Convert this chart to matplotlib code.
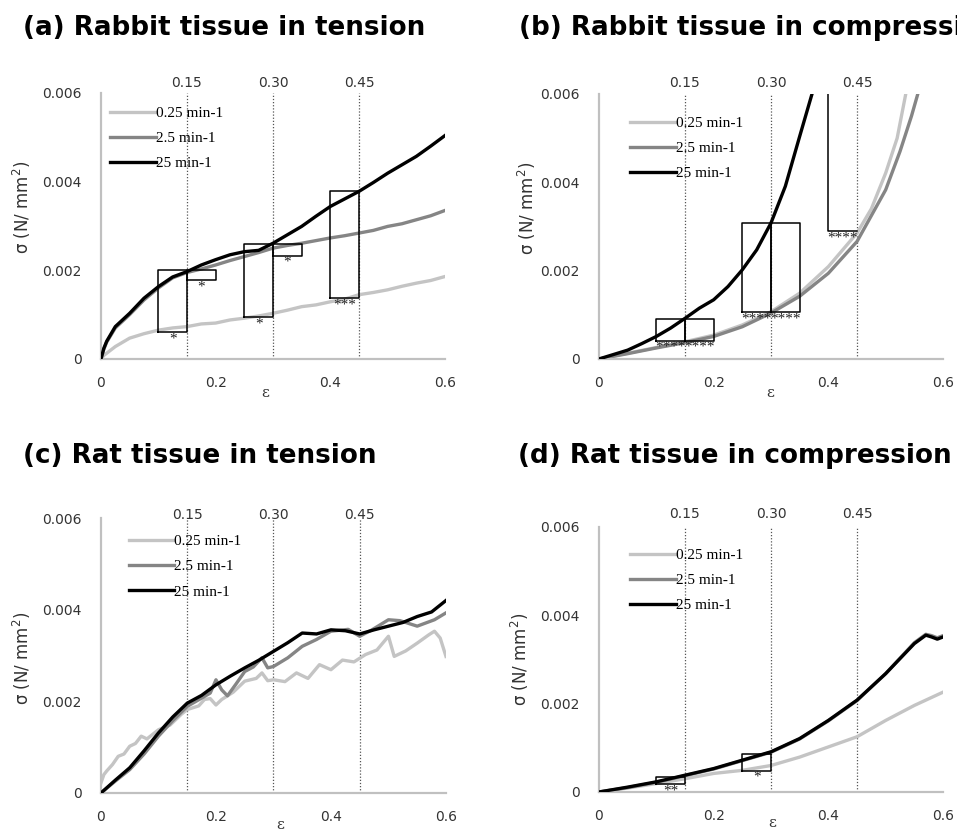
import matplotlib
matplotlib.use("Agg")
import matplotlib.pyplot as plt
import matplotlib.transforms as mtransforms

# ---- data ----
rates = ["0.25 min-1", "2.5 min-1", "25 min-1"]
colors = ["#c4c4c4", "#858585", "#000000"]

# (a) rabbit, tension
a_eps = [0, 0.005, 0.01, 0.025, 0.05, 0.075, 0.1, 0.125, 0.15, 0.175, 0.2, 0.225, 0.25,
         0.275, 0.3, 0.325, 0.35, 0.375, 0.4, 0.425, 0.45, 0.475, 0.5, 0.525, 0.55, 0.575, 0.6]
a_slow = [0, 0.00008, 0.00013, 0.00028, 0.00047, 0.00057, 0.00065, 0.0007, 0.00073, 0.00079,
          0.00081, 0.00088, 0.00092, 0.00097, 0.00103, 0.0011, 0.00118, 0.00122, 0.00129,
          0.00135, 0.00145, 0.0015, 0.00156, 0.00164, 0.00171, 0.00177, 0.00186]
a_mid = [0, 0.00022, 0.00038, 0.0007, 0.001, 0.00133, 0.0016, 0.00183, 0.00195, 0.00203,
         0.00212, 0.00222, 0.00231, 0.0024, 0.0025, 0.00256, 0.00261, 0.00267, 0.00273,
         0.00278, 0.00284, 0.0029, 0.00299, 0.00305, 0.00314, 0.00323, 0.00335]
a_fast = [0, 0.00024, 0.0004, 0.00073, 0.00103, 0.00137, 0.00163, 0.00185, 0.00197, 0.00212,
          0.00224, 0.00235, 0.00242, 0.00245, 0.00261, 0.0028, 0.00299, 0.00322, 0.00344,
          0.00361, 0.00378, 0.00398, 0.00419, 0.00438, 0.00457, 0.0048, 0.00504]

# (b) rabbit, compression
b_eps_slow = [0, 0.05, 0.1, 0.15, 0.2, 0.25, 0.3, 0.35, 0.4, 0.45, 0.475, 0.5, 0.52, 0.535]
b_slow = [0, 0.00013, 0.00026, 0.00039, 0.00054, 0.00077, 0.00107, 0.00149, 0.00209,
          0.00285, 0.0034, 0.00421, 0.005, 0.006]
b_eps_mid = [0, 0.05, 0.1, 0.15, 0.2, 0.25, 0.3, 0.35, 0.4, 0.45, 0.5, 0.525, 0.545, 0.556]
b_mid = [0, 0.00012, 0.00025, 0.00037, 0.00051, 0.00073, 0.00104, 0.00142, 0.00194,
         0.00266, 0.00383, 0.0047, 0.0055, 0.006]
b_eps_fast = [0, 0.025, 0.05, 0.075, 0.1, 0.125, 0.15, 0.175, 0.2, 0.225, 0.25, 0.275,
              0.3, 0.325, 0.35, 0.3715]
b_fast = [0, 0.0001, 0.0002, 0.00035, 0.00051, 0.0007, 0.00092, 0.00115, 0.00134, 0.00164,
          0.00202, 0.00247, 0.00308, 0.00391, 0.00504, 0.006]

# (c) rat, tension
c_eps_slow = [0, 0.005, 0.01, 0.02, 0.03, 0.04, 0.05, 0.06, 0.07, 0.08, 0.09, 0.1, 0.12,
              0.14, 0.15, 0.17, 0.18, 0.19, 0.2, 0.21, 0.23, 0.25, 0.27, 0.28, 0.29, 0.3,
              0.32, 0.34, 0.36, 0.38, 0.4, 0.42, 0.44, 0.46, 0.48, 0.5, 0.51, 0.53, 0.55,
              0.57, 0.58, 0.59, 0.6]
c_slow = [0.00022, 0.0004, 0.00048, 0.00062, 0.0008, 0.00085, 0.00102, 0.00108, 0.00124,
          0.00118, 0.00128, 0.00138, 0.00148, 0.00172, 0.00182, 0.0019, 0.00204, 0.00206,
          0.00192, 0.00204, 0.0022, 0.00244, 0.0025, 0.00262, 0.00245, 0.00247, 0.00243,
          0.00262, 0.0025, 0.0028, 0.00269, 0.0029, 0.00286, 0.00302, 0.00312, 0.00342,
          0.00298, 0.0031, 0.00327, 0.00345, 0.00353, 0.00338, 0.00298]
c_eps_mid = [0, 0.025, 0.05, 0.075, 0.1, 0.125, 0.15, 0.175, 0.19, 0.2, 0.21, 0.22, 0.235,
             0.25, 0.265, 0.28, 0.29, 0.3, 0.325, 0.35, 0.375, 0.4, 0.43, 0.45, 0.47, 0.5,
             0.52, 0.55, 0.58, 0.6]
c_mid = [0, 0.00026, 0.00051, 0.00085, 0.00124, 0.00158, 0.00189, 0.00207, 0.00218,
         0.00247, 0.00225, 0.00212, 0.00238, 0.00265, 0.00275, 0.00295, 0.00273, 0.00276,
         0.00295, 0.0032, 0.00335, 0.00353, 0.00357, 0.00342, 0.00355, 0.00378, 0.00376,
         0.00364, 0.00378, 0.00393]
c_eps_fast = [0, 0.025, 0.05, 0.075, 0.1, 0.125, 0.15, 0.175, 0.2, 0.225, 0.25, 0.275, 0.3,
              0.325, 0.35, 0.375, 0.4, 0.425, 0.45, 0.475, 0.5, 0.525, 0.55, 0.575, 0.6]
c_fast = [0, 0.00028, 0.00055, 0.00092, 0.00131, 0.00166, 0.00196, 0.00213, 0.00236,
          0.00255, 0.00273, 0.0029, 0.00309, 0.00328, 0.00349, 0.00347, 0.00356, 0.00354,
          0.00347, 0.00356, 0.00364, 0.00372, 0.00385, 0.00395, 0.0042]

# (d) rat, compression
d_eps = [0, 0.05, 0.1, 0.15, 0.2, 0.25, 0.3, 0.35, 0.4, 0.45, 0.5, 0.55, 0.57, 0.58, 0.59, 0.6]
d_mid = [0, 0.0001, 0.00022, 0.00037, 0.00052, 0.00071, 0.0009, 0.0012, 0.00161, 0.00207,
         0.00268, 0.00338, 0.00357, 0.00354, 0.00349, 0.00354]
d_fast = [0, 0.00011, 0.00023, 0.00038, 0.00053, 0.00072, 0.00091, 0.00121, 0.00162,
          0.00208, 0.00268, 0.00336, 0.00355, 0.00351, 0.00346, 0.00351]
d_eps_slow = [0, 0.05, 0.1, 0.15, 0.2, 0.25, 0.3, 0.35, 0.4, 0.45, 0.5, 0.55, 0.6]
d_slow = [0, 0.00009, 0.00019, 0.0003, 0.00042, 0.00049, 0.0006, 0.00079, 0.00102,
          0.00125, 0.00162, 0.00196, 0.00226]

# significance boxes: (x0, x1, y0, y1), star label
a_boxes = [(0.1, 0.15, 0.0006, 0.002), (0.15, 0.2, 0.00178, 0.002),
           (0.25, 0.3, 0.00094, 0.0026), (0.3, 0.35, 0.00233, 0.0026),
           (0.4, 0.45, 0.00137, 0.00378)]
a_stars = ["*", "*", "*", "*", "***"]
b_boxes = [(0.1, 0.15, 0.00041, 0.00091), (0.15, 0.2, 0.00041, 0.00091),
           (0.25, 0.3, 0.00106, 0.00308), (0.3, 0.35, 0.00106, 0.00308)]
b_stars = ["****", "****", "****", "****"]
b_open_box = (0.4, 0.45, 0.00289)   # top beyond the axis
d_boxes = [(0.1, 0.15, 0.00017, 0.00034), (0.25, 0.3, 0.00048, 0.00085)]
d_stars = ["**", "*"]

strain_marks = [0.15, 0.30, 0.45]
xticks = [0, 0.2, 0.4, 0.6]
yticks = [0, 0.002, 0.004, 0.006]

fig = plt.figure(figsize=(9.57, 8.3), dpi=100)

def setup(rect, title, title_pos, top_y, ylab_pos, leg_anchor, eps_pos):
    ax = fig.add_axes(rect)
    ax.set_xlim(0, 0.6)
    ax.set_ylim(0, 0.006)
    for s in ["top", "right"]:
        ax.spines[s].set_visible(False)
    for s in ["left", "bottom"]:
        ax.spines[s].set_color("#c0c0c0")
        ax.spines[s].set_linewidth(1.6)
    ax.set_xticks(xticks)
    ax.set_xticklabels(["0", "0.2", "0.4", "0.6"])
    ax.set_yticks(yticks)
    ax.set_yticklabels(["0", "0.002", "0.004", "0.006"])
    ax.tick_params(length=0, labelsize=10, colors="#333333")
    ax.tick_params(axis="x", pad=12)
    ax.tick_params(axis="y", pad=14)
    ax.set_ylabel("σ (N/ mm$^2$)", fontsize=12, color="#333333")
    ax.yaxis.set_label_coords(*ylab_pos)
    trans = mtransforms.blended_transform_factory(ax.transData, ax.transAxes)
    for m in strain_marks:
        ax.axvline(m, color="#555555", lw=0.9, ls=(0, (1, 1.5)), zorder=1)
        ax.text(m, top_y, "%.2f" % m, transform=trans, ha="center", va="center",
                fontsize=10, color="#333333")
    ax.text(eps_pos[0], eps_pos[1], "ε", transform=trans, ha="center", va="center",
            fontsize=11, color="#333333", family="DejaVu Serif")
    fig.text(title_pos[0], title_pos[1], title, fontsize=18.8, fontweight="bold",
             family="DejaVu Sans", va="center", ha="left")
    ax._leg_anchor = leg_anchor
    return ax

def add_legend(ax):
    ax.legend(loc="upper left", bbox_to_anchor=ax._leg_anchor, frameon=False,
              prop={"family": "Liberation Serif", "size": 11}, handlelength=3.0,
              handletextpad=0.0, labelspacing=0.75, borderpad=0, borderaxespad=0)

def boxes(ax, bx, stars):
    for (x0, x1, y0, y1), st in zip(bx, stars):
        ax.plot([x0, x1, x1, x0, x0], [y0, y0, y1, y1, y0], color="black", lw=1.1, zorder=4)
        ax.text((x0 + x1) / 2, y0, st, ha="center", va="top", fontsize=11,
                family="Liberation Serif", color="#222222", zorder=5)

lw = 2.4

# (a)
ax = setup([0.1055, 0.5675, 0.3595, 0.3205], "(a) Rabbit tissue in tension", (0.024, 0.966),
           1.038, (-0.198, 0.57), (0.026, 0.95), (0.286, -0.128))
ax.plot(a_eps, a_slow, color=colors[0], lw=lw, label=rates[0], zorder=2)
ax.plot(a_eps, a_mid, color=colors[1], lw=lw, label=rates[1], zorder=2)
ax.plot(a_eps, a_fast, color=colors[2], lw=lw, label=rates[2], zorder=3)
boxes(ax, a_boxes, a_stars)
add_legend(ax)

# (b)
ax = setup([0.6259, 0.5675, 0.3595, 0.3193], "(b) Rabbit tissue in compression", (0.542, 0.966),
           1.041, (-0.177, 0.57), (0.09, 0.915), (0.298, -0.128))
ax.plot(b_eps_slow, b_slow, color=colors[0], lw=lw, label=rates[0], zorder=2)
ax.plot(b_eps_mid, b_mid, color=colors[1], lw=lw, label=rates[1], zorder=2)
ax.plot(b_eps_fast, b_fast, color=colors[2], lw=lw, label=rates[2], zorder=3)
boxes(ax, b_boxes, b_stars)
ox0, ox1, oy0 = b_open_box
ax.plot([ox0, ox0, ox1], [0.0075, oy0, oy0], color="black", lw=1.1, zorder=4)
ax.text((ox0 + ox1) / 2, oy0, "****", ha="center", va="top", fontsize=11,
        family="Liberation Serif", color="#222222", zorder=5)
add_legend(ax)

# (c)
ax = setup([0.1055, 0.0446, 0.3605, 0.3313], "(c) Rat tissue in tension", (0.024, 0.451),
           1.011, (-0.198, 0.49), (0.08, 0.94), (0.312, -0.116))
ax.plot(c_eps_slow, c_slow, color=colors[0], lw=lw, label=rates[0], zorder=2)
ax.plot(c_eps_mid, c_mid, color=colors[1], lw=lw, label=rates[1], zorder=2)
ax.plot(c_eps_fast, c_fast, color=colors[2], lw=lw, label=rates[2], zorder=3)
add_legend(ax)

# (d)
ax = setup([0.6259, 0.0458, 0.3595, 0.3193], "(d) Rat tissue in compression", (0.541, 0.451),
           1.05, (-0.198, 0.50), (0.09, 0.92), (0.302, -0.117))
ax.plot(d_eps_slow, d_slow, color=colors[0], lw=lw, label=rates[0], zorder=2)
ax.plot(d_eps, d_mid, color=colors[1], lw=lw, label=rates[1], zorder=2)
ax.plot(d_eps, d_fast, color=colors[2], lw=lw, label=rates[2], zorder=3)
boxes(ax, d_boxes, d_stars)
add_legend(ax)

fig.savefig("out.png", dpi=100)
